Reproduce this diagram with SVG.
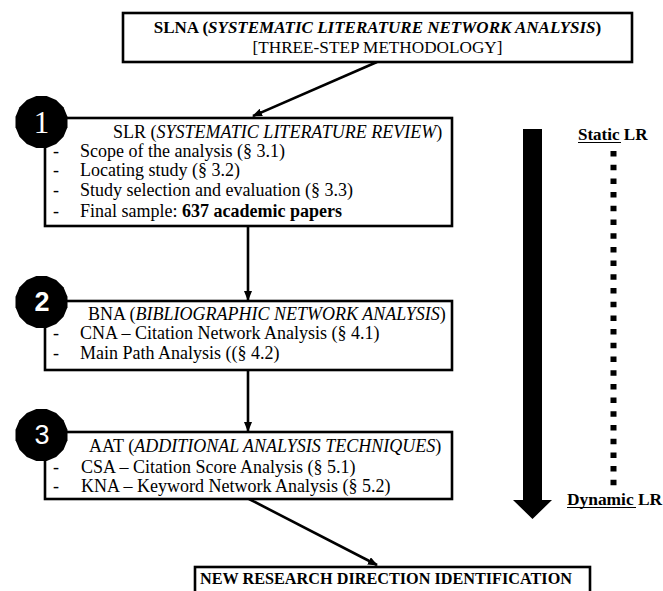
<svg xmlns="http://www.w3.org/2000/svg" width="663" height="591" viewBox="0 0 663 591">
<style>
text{font-family:"Liberation Serif","Times New Roman",serif;fill:#000}
.t{font-size:18px}
.b{font-weight:bold}
.i{font-style:italic}
.box{fill:#fff;stroke:#000;stroke-width:2.6}
.con{stroke:#000;stroke-width:2.6;fill:none}
.badge{fill:#000}
.num{fill:#fff}
</style>
<defs>
<marker id="ah" markerWidth="10" markerHeight="8" refX="9" refY="4" orient="auto" markerUnits="userSpaceOnUse">
<path d="M0,0 L10,4 L0,8 Z" fill="#000"/>
</marker>
<polygon id="oct" points="26,5.2 22,14.7 14.7,22 5.2,26 -5.2,26 -14.7,22 -22,14.7 -26,5.2 -26,-5.2 -22,-14.7 -14.7,-22 -5.2,-26 5.2,-26 14.7,-22 22,-14.7 26,-5.2"/>
</defs>
<rect width="663" height="591" fill="#fff"/>

<g id="connectors">
<line class="con" x1="377" y1="62" x2="253" y2="116" marker-end="url(#ah)"/>
<line class="con" x1="248" y1="227" x2="248" y2="300" marker-end="url(#ah)"/>
<line class="con" x1="248" y1="370" x2="248" y2="431" marker-end="url(#ah)"/>
<line class="con" x1="249" y1="499" x2="377" y2="565" marker-end="url(#ah)"/>
</g>

<g id="slna">
<rect class="box" x="123" y="13" width="509" height="49"/>
<text class="b" x="377.5" y="33" text-anchor="middle" font-size="17">SLNA (<tspan class="i">SYSTEMATIC LITERATURE NETWORK ANALYSIS</tspan>)</text>
<text x="377.5" y="53" text-anchor="middle" font-size="17.2">[THREE-STEP METHODOLOGY]</text>
</g>

<g id="step1">
<rect class="box" x="45" y="118" width="407" height="108"/>
<use href="#oct" class="badge" transform="translate(41.5,122)"/>
<text class="num" x="41.5" y="132.5" text-anchor="middle" font-size="31">1</text>
<text class="t" x="113" y="138">SLR (<tspan class="i">SYSTEMATIC LITERATURE REVIEW</tspan>)</text>
<text class="t" x="53" y="157">-</text><text class="t" x="80" y="157">Scope of the analysis (§ 3.1)</text>
<text class="t" x="53" y="176">-</text><text class="t" x="80" y="176">Locating study (§ 3.2)</text>
<text class="t" x="53" y="196">-</text><text class="t" x="80" y="196">Study selection and evaluation (§ 3.3)</text>
<text class="t" x="53" y="217">-</text><text class="t" x="80" y="217">Final sample: <tspan class="b">637 academic papers</tspan></text>
</g>

<g id="step2">
<rect class="box" x="45" y="301" width="407" height="69"/>
<use href="#oct" class="badge" transform="translate(41.5,302)"/>
<text class="num b" x="42" y="311" text-anchor="middle" font-size="27" style="font-family:'Liberation Sans',Arial,sans-serif">2</text>
<text class="t" x="88" y="320">BNA (<tspan class="i">BIBLIOGRAPHIC NETWORK ANALYSIS</tspan>)</text>
<text class="t" x="53" y="339">-</text><text class="t" x="80" y="339">CNA – Citation Network Analysis (§ 4.1)</text>
<text class="t" x="53" y="359">-</text><text class="t" x="80" y="359">Main Path Analysis ((§ 4.2)</text>
</g>

<g id="step3">
<rect class="box" x="45" y="432" width="407" height="67"/>
<use href="#oct" class="badge" transform="translate(41.5,435)"/>
<text class="num" x="42" y="444" text-anchor="middle" font-size="27" style="font-family:'Liberation Sans',Arial,sans-serif">3</text>
<text class="t" x="89" y="452">AAT (<tspan class="i">ADDITIONAL ANALYSIS TECHNIQUES</tspan>)</text>
<text class="t" x="53" y="473">-</text><text class="t" x="81" y="473">CSA – Citation Score Analysis (§ 5.1)</text>
<text class="t" x="53" y="492">-</text><text class="t" x="81" y="492">KNA – Keyword Network Analysis (§ 5.2)</text>
</g>

<g id="nrdi">
<rect class="box" x="195" y="567" width="395" height="40"/>
<text class="b" x="200" y="584" font-size="17.5" textLength="372" lengthAdjust="spacingAndGlyphs">NEW RESEARCH DIRECTION IDENTIFICATION</text>
</g>

<g id="timeline">
<path d="M523,129 H542 V500 H552 L532.5,519 L513,500 H523 Z" fill="#000"/>
<line x1="613.5" y1="151" x2="613.5" y2="486" stroke="#000" stroke-width="6" stroke-dasharray="5.5 8.2"/>
<text class="b" x="578" y="140" font-size="17">Static LR</text>
<line x1="578" y1="142.5" x2="621" y2="142.5" stroke="#000" stroke-width="1.2"/>
<text class="b" x="567" y="505" font-size="17.4">Dynamic LR</text>
<line x1="567" y1="507.5" x2="636" y2="507.5" stroke="#000" stroke-width="1.2"/>
</g>
</svg>
